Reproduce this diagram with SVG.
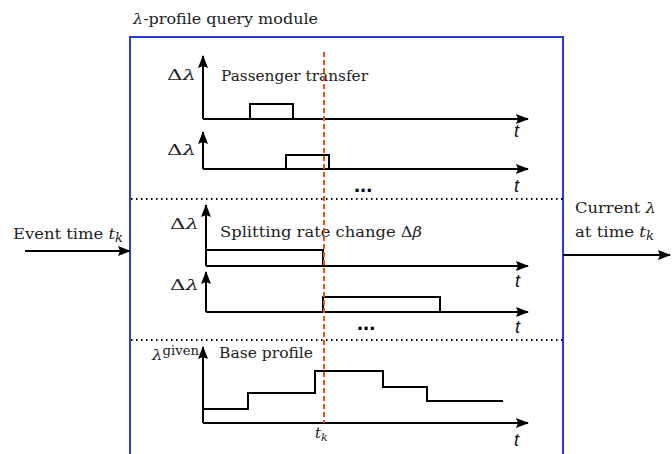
<svg xmlns="http://www.w3.org/2000/svg" width="672" height="454" viewBox="0 0 672 454">
<style>
text{font-family:"DejaVu Serif","Liberation Serif",serif;font-size:15px;fill:#222}
.m{font-style:italic}
.t{font-family:"Liberation Sans",Arial,sans-serif;font-style:italic;font-size:18px;fill:#111}
.ax2{stroke:#000;stroke-width:2;fill:none;marker-end:url(#ah)}
.sig{stroke:#000;stroke-width:2;fill:none}
.dot{stroke:#000;stroke-width:2;stroke-dasharray:1.5 3.5;fill:none}
.dots{font-family:"Liberation Sans",Arial,sans-serif;font-weight:bold;font-size:22px;fill:#000}
</style>
<defs>
<marker id="ah" markerUnits="userSpaceOnUse" markerWidth="14" markerHeight="12" refX="12" refY="5" orient="auto">
<path d="M0,0 L13,5 L0,10 L2,5 z" fill="#000"/>
</marker>
</defs>
<rect width="672" height="454" fill="#fff"/>
<g id="module">
<text x="133" y="24" textLength="185" lengthAdjust="spacingAndGlyphs"><tspan class="m">λ</tspan>-profile query module</text>
<rect x="130" y="37" width="433" height="430" fill="none" stroke="#2a3de0" stroke-width="2"/>
</g>
<g id="separators">
<line class="dot" x1="131" y1="199" x2="563" y2="199"/>
<line class="dot" x1="131" y1="340" x2="563" y2="340"/>
</g>
<g id="panel-passenger-1">
<line class="ax2" x1="203" y1="119" x2="203" y2="56"/>
<line class="ax2" x1="203" y1="119" x2="528" y2="119"/>
<path class="sig" d="M250,119 V104 H293 V119"/>
<text x="167" y="80" textLength="29" lengthAdjust="spacingAndGlyphs">Δ<tspan class="m">λ</tspan></text>
<text x="221" y="81" textLength="147" lengthAdjust="spacingAndGlyphs">Passenger transfer</text>
<text class="t" x="514" y="137">t</text>
</g>
<g id="panel-passenger-2">
<line class="ax2" x1="203" y1="169" x2="203" y2="132"/>
<line class="ax2" x1="203" y1="169" x2="528" y2="169"/>
<path class="sig" d="M286,169 V155 H329 V169"/>
<text x="167" y="155" textLength="29" lengthAdjust="spacingAndGlyphs">Δ<tspan class="m">λ</tspan></text>
<text class="dots" x="354" y="192">...</text>
<text class="t" x="514" y="192">t</text>
</g>
<g id="panel-splitting-1">
<line class="ax2" x1="206" y1="266" x2="206" y2="205"/>
<line class="ax2" x1="206" y1="266" x2="528" y2="266"/>
<path class="sig" d="M206,266 V250 H323 V266"/>
<text x="170" y="229" textLength="29" lengthAdjust="spacingAndGlyphs">Δ<tspan class="m">λ</tspan></text>
<text x="220" y="237" textLength="202" lengthAdjust="spacingAndGlyphs">Splitting rate change Δ<tspan class="m">β</tspan></text>
<text class="t" x="515" y="287">t</text>
</g>
<g id="panel-splitting-2">
<line class="ax2" x1="206" y1="312" x2="206" y2="272"/>
<line class="ax2" x1="206" y1="312" x2="528" y2="312"/>
<path class="sig" d="M323,312 V297 H440 V312"/>
<text x="170" y="290" textLength="29" lengthAdjust="spacingAndGlyphs">Δ<tspan class="m">λ</tspan></text>
<text class="dots" x="357" y="330">...</text>
<text class="t" x="515" y="333">t</text>
</g>
<g id="panel-base">
<line class="ax2" x1="203" y1="423" x2="203" y2="347"/>
<line class="ax2" x1="203" y1="423" x2="528" y2="423"/>
<path class="sig" d="M203,409 H248 V393 H315 V371 H383 V387 H427 V401 H503"/>
<text x="152" y="360" textLength="47" lengthAdjust="spacingAndGlyphs"><tspan class="m">λ</tspan><tspan font-size="12" dy="-5">given</tspan></text>
<text x="219" y="358" textLength="94" lengthAdjust="spacingAndGlyphs">Base profile</text>
<text class="m" x="315" y="438">t<tspan font-size="11" dy="3">k</tspan></text>
<text class="t" x="514" y="446">t</text>
</g>
<g id="event-time-marker">
<line x1="324" y1="52" x2="324" y2="423" stroke="#ee4f14" stroke-width="2" stroke-dasharray="5 3"/>
</g>
<g id="input-label">
<text x="13" y="239" textLength="110" lengthAdjust="spacingAndGlyphs">Event time <tspan class="m">t</tspan><tspan class="m" font-size="12" dy="3">k</tspan></text>
</g>
<g id="output-label">
<text x="575" y="213" textLength="81" lengthAdjust="spacingAndGlyphs">Current <tspan class="m">λ</tspan></text>
<text x="575" y="237" textLength="79" lengthAdjust="spacingAndGlyphs">at time <tspan class="m">t</tspan><tspan class="m" font-size="12" dy="3">k</tspan></text>
</g>
<g id="connectors">
<line class="ax2" x1="25" y1="251" x2="130" y2="251"/>
<line class="ax2" x1="563" y1="255" x2="670" y2="255"/>
</g>
</svg>
